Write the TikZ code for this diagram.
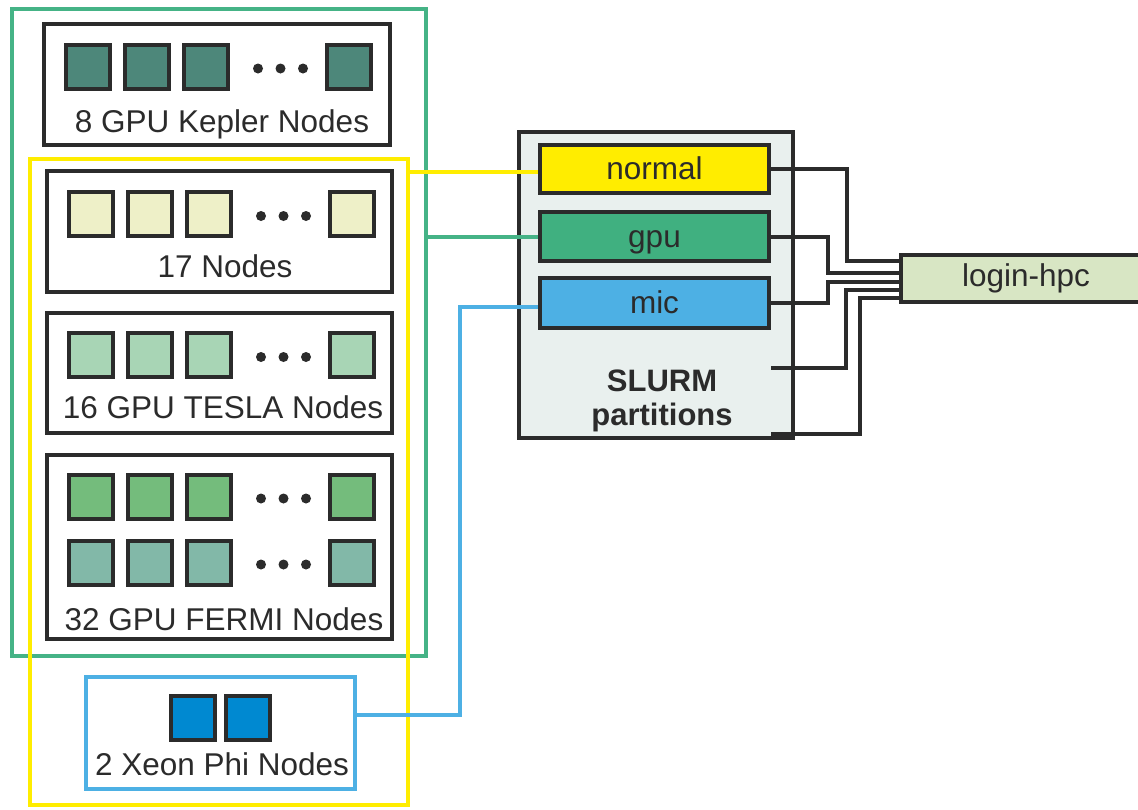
\documentclass[tikz,border=0pt]{standalone}
\usepackage{fontspec}
\setmainfont{Liberation Sans}
\usepackage{tikz}
\definecolor{dark_gray}		{RGB}{43,43,43}
\definecolor{frame_green}	{RGB}{69,179,134}
\definecolor{frame_yellow}	{RGB}{255,237,0}
\definecolor{frame_blue}	{RGB}{77,176,228}
\definecolor{kepler_fill}	{RGB}{77,135,122}
\definecolor{plain_fill}	{RGB}{238,240,200}
\definecolor{tesla_fill}	{RGB}{168,213,181}
\definecolor{fermiA_fill}	{RGB}{116,188,124}
\definecolor{fermiB_fill}	{RGB}{130,184,168}
\definecolor{xeon_fill}		{RGB}{0,137,209}
\definecolor{slurm_fill}	{RGB}{233,240,238}
\definecolor{gpu_fill}		{RGB}{64,176,128}
\definecolor{login_fill}	{RGB}{216,230,196}
% one row of compute nodes: name, style, first x, y
\newcommand{\noderow}[4]{
	\foreach \dx [count=\i] in {0,59,118,261}
		\node[#2] (#1\i) at (#3+\dx,#4) {};
	\foreach \dx in {170,192.5,215}
		\fill[dark_gray] (#3+\dx,#4+2) circle (5);
}

\begin{document}
	\begin{tikzpicture}[
		x               = 1pt,
		y               = -1pt,
		every node/.style = {font = \fontsize{31.5}{35}\selectfont,
			text           = dark_gray},
		groupG/.style   = {draw = frame_green,
			rectangle,
			line width     = 4pt,
			inner sep      = 0pt},
		groupY/.style   = {groupG,
			draw           = frame_yellow},
		groupB/.style   = {groupG,
			draw           = frame_blue},
		hostbox/.style  = {draw = dark_gray,
			rectangle,
			line width     = 4pt,
			inner sep      = 0pt,
			minimum width  = 345pt},
		sqbox/.style    = {draw = dark_gray,
			rectangle,
			line width     = 4pt,
			inner sep      = 0pt,
			minimum size   = 44pt},
		sqKepler/.style = {sqbox, fill = kepler_fill},
		sqPlain/.style  = {sqbox, fill = plain_fill},
		sqTesla/.style  = {sqbox, fill = tesla_fill},
		sqFermiA/.style = {sqbox, fill = fermiA_fill},
		sqFermiB/.style = {sqbox, fill = fermiB_fill},
		sqXeon/.style   = {sqbox, fill = xeon_fill},
		part/.style     = {draw = dark_gray,
			rectangle,
			line width     = 4pt,
			inner sep      = 0pt,
			minimum width  = 229pt,
			minimum height = 48pt,
			text height    = 22pt,
			text depth     = 1pt},
		link/.style     = {draw = dark_gray, line width = 4pt},
		linkY/.style    = {draw = frame_yellow, line width = 4pt},
		linkG/.style    = {draw = frame_green, line width = 4pt},
		linkB/.style    = {draw = frame_blue, line width = 4pt}]
		
		\useasboundingbox (0,0) rectangle (1138,809);
		
		% partition frames
		\node[groupG, minimum width = 414pt, minimum height = 647pt] (gpuFrame) at (219,332.5) {};
		\node[groupY, minimum width = 378pt, minimum height = 646pt] (cpuFrame) at (219,482) {};
		
		% host groups
		\node[hostbox, minimum width = 346pt, minimum height = 121pt] (kepler) at (217,84.5) {};
		\noderow{kep}{sqKepler}{88}{66.5}
		\node[anchor = base] (keplerLabel) at (222,132) {8 GPU Kepler Nodes};
		
		\node[hostbox, minimum height = 121pt] (plain) at (219.5,231.5) {};
		\noderow{pln}{sqPlain}{91}{214}
		\node[anchor = base] (plainLabel) at (225,277) {17 Nodes};
		
		\node[hostbox, minimum height = 120pt] (tesla) at (219.5,373) {};
		\noderow{tsl}{sqTesla}{91}{355}
		\node[anchor = base] (teslaLabel) at (223,418) {16 GPU TESLA Nodes};
		
		\node[hostbox, minimum height = 184pt] (fermi) at (219.5,547) {};
		\noderow{frA}{sqFermiA}{91}{496.5}
		\noderow{frB}{sqFermiB}{91}{562.5}
		\node[anchor = base] (fermiLabel) at (224,630) {32 GPU FERMI Nodes};
		
		\node[groupB, minimum width = 269pt, minimum height = 112pt] (xeon) at (220.5,733) {};
		\node[sqXeon] (xeon1) at (193,717.5) {};
		\node[sqXeon] (xeon2) at (248,717.5) {};
		\node[anchor = base] (xeonLabel) at (222,775) {2 Xeon Phi Nodes};
		
		% SLURM partitions
		\node[draw = dark_gray, fill = slurm_fill, line width = 4pt, inner sep = 0pt,
			minimum width = 274pt, minimum height = 306pt] (slurm) at (656,285) {};
		\node[part, fill = frame_yellow] (normal) at (654.5,169) {normal};
		\node[part, fill = gpu_fill, minimum height = 49pt] (gpu) at (654.5,236.5) {gpu};
		\node[part, fill = frame_blue, minimum height = 50pt] (mic) at (654.5,303) {mic};
		\node[align = center, font = \fontsize{31}{34}\selectfont\bfseries] (slurmLabel) at (662,401)
		{SLURM \\ partitions};
		
		\node[draw = dark_gray, fill = login_fill, line width = 4pt, inner sep = 0pt,
			minimum width = 250pt, minimum height = 47pt, anchor = west] (login) at (899,278.5) {login-hpc};
		
		% frames to partitions
		\path[linkY] (cpuFrame.east |- normal.west) ++(0,3) -- ([yshift=-3pt]normal.west);
		\path[linkG] (gpuFrame.east |- gpu.west) -- (gpu.west);
		\path[linkB] ([yshift=18pt]xeon.east) -- (460,715) |- ([yshift=-4pt]mic.west);
		
		% partitions to login node
		\coordinate (slurmA) at (771,368);
		\coordinate (slurmB) at (771,434);
		\path[link] (normal.east) -- (847,169) |- ([yshift=17.5pt]login.west);
		\path[link] (gpu.east) -- (828,236.5) |- ([yshift=5.5pt]login.west);
		\path[link] (mic.east) -- (828,303) |- ([yshift=-3.5pt]login.west);
		\path[link] (slurmA) -- (846,368) |- ([yshift=-11.5pt]login.west);
		\path[link] (slurmB) -- (860,434) |- ([yshift=-19.5pt]login.west);
		
	\end{tikzpicture}
\end{document}
